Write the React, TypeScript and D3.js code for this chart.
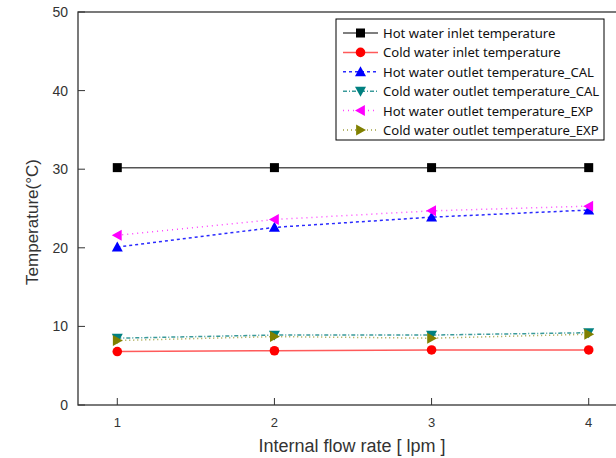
import React, { useEffect, useRef } from 'react';
import * as d3 from 'd3';

// flow rate [lpm]
const flowRates = [1, 2, 3, 4];
const yTicks = [0, 10, 20, 30, 40, 50];

const hotInlet = [30.2, 30.2, 30.2, 30.2];
const coldInlet = [6.8, 6.9, 7.0, 7.0];
const hotOutletCal = [20.1, 22.6, 23.9, 24.8];
const coldOutletCal = [8.5, 8.9, 8.9, 9.2];
const hotOutletExp = [21.6, 23.6, 24.7, 25.3];
const coldOutletExp = [8.2, 8.7, 8.5, 9.0];

const seriesNames = [
  'Hot water inlet temperature',
  'Cold water inlet temperature',
  'Hot water outlet temperature_CAL',
  'Cold water outlet temperature_CAL',
  'Hot water outlet temperature_EXP',
  'Cold water outlet temperature_EXP',
];

type Series = { name: string; values: number[]; color: string; lineColor: string; dash: string; marker: string };

const series: Series[] = [
  { name: seriesNames[0], values: hotInlet, color: '#000', lineColor: '#555', dash: '', marker: 'square' },
  { name: seriesNames[1], values: coldInlet, color: '#ff0000', lineColor: '#ff5a5a', dash: '', marker: 'circle' },
  { name: seriesNames[2], values: hotOutletCal, color: '#0000ff', lineColor: '#2a2aff', dash: '3,3', marker: 'up' },
  { name: seriesNames[3], values: coldOutletCal, color: '#008080', lineColor: '#3a9a9a', dash: '4,2,1,2', marker: 'down' },
  { name: seriesNames[4], values: hotOutletExp, color: '#ff00ff', lineColor: '#ff44ff', dash: '1,4', marker: 'left' },
  { name: seriesNames[5], values: coldOutletExp, color: '#808000', lineColor: '#a0a040', dash: '1,3', marker: 'right' },
];

function drawMarker(g: any, kind: string, x: number, y: number, color: string) {
  const s = 5.5;
  if (kind === 'square') {
    g.append('rect').attr('x', x - 4.5).attr('y', y - 4.5).attr('width', 9).attr('height', 9).attr('fill', color);
  } else if (kind === 'circle') {
    g.append('circle').attr('cx', x).attr('cy', y).attr('r', 4.8).attr('fill', color);
  } else {
    let pts: number[][] = [];
    if (kind === 'up') pts = [[x, y - s], [x + s, y + s * 0.8], [x - s, y + s * 0.8]];
    if (kind === 'down') pts = [[x, y + s], [x + s, y - s * 0.8], [x - s, y - s * 0.8]];
    if (kind === 'left') pts = [[x - s, y], [x + s * 0.8, y - s], [x + s * 0.8, y + s]];
    if (kind === 'right') pts = [[x + s, y], [x - s * 0.8, y - s], [x - s * 0.8, y + s]];
    g.append('polygon').attr('points', pts.map(p => p.join(',')).join(' ')).attr('fill', color);
  }
}

export default function App() {
  const ref = useRef<SVGSVGElement>(null);

  useEffect(() => {
    const svg = d3.select(ref.current);
    svg.selectAll('*').remove();

    const x = d3.scaleLinear().domain([0.75, 4.25]).range([78, 628]);
    const y = d3.scaleLinear().domain([0, 50]).range([405, 12]);
    const font = '"Liberation Sans", Arial, sans-serif';

    svg.append('rect').attr('width', 616).attr('height', 458).attr('fill', '#fff');

    // frame
    svg.append('rect')
      .attr('x', x(0.75)).attr('y', y(50))
      .attr('width', x(4.25) - x(0.75)).attr('height', y(0) - y(50))
      .attr('fill', 'none').attr('stroke', '#333').attr('stroke-width', 1.3);

    // y ticks
    const yAxis = svg.append('g');
    yTicks.forEach(t => {
      yAxis.append('line').attr('x1', x(0.75)).attr('x2', x(0.75) + 7)
        .attr('y1', y(t)).attr('y2', y(t)).attr('stroke', '#333');
      yAxis.append('text').attr('x', 68).attr('y', y(t) + 5)
        .attr('text-anchor', 'end').attr('font-family', font).attr('font-size', 14)
        .attr('fill', '#333').text(t);
    });

    // x ticks
    const xAxis = svg.append('g');
    flowRates.forEach(t => {
      xAxis.append('line').attr('x1', x(t)).attr('x2', x(t))
        .attr('y1', y(0)).attr('y2', y(0) - 7).attr('stroke', '#333');
      xAxis.append('text').attr('x', x(t)).attr('y', 427)
        .attr('text-anchor', 'middle').attr('font-family', font).attr('font-size', 13)
        .attr('fill', '#333').text(t);
    });

    // axis titles
    svg.append('text').attr('transform', 'translate(38,222) rotate(-90)')
      .attr('text-anchor', 'middle').attr('font-family', font).attr('font-size', 17)
      .attr('fill', '#333').text('Temperature(°C)');
    svg.append('text').attr('x', 352).attr('y', 452)
      .attr('text-anchor', 'middle').attr('font-family', font).attr('font-size', 18)
      .attr('fill', '#333').text('Internal flow rate [ lpm ]');

    // series
    const line = d3.line<number>().x((_, i) => x(flowRates[i])).y(d => y(d));
    series.forEach(s => {
      svg.append('path').attr('d', line(s.values)).attr('fill', 'none')
        .attr('stroke', s.lineColor).attr('stroke-width', 1.5)
        .attr('stroke-dasharray', s.dash || null);
    });
    series.forEach(s => {
      const g = svg.append('g');
      s.values.forEach((v, i) => drawMarker(g, s.marker, x(flowRates[i]), y(v), s.color));
    });

    // legend
    const lg = svg.append('g');
    lg.append('rect').attr('x', 336).attr('y', 19).attr('width', 268).attr('height', 121)
      .attr('fill', '#fff').attr('stroke', '#000').attr('stroke-width', 1);
    series.forEach((s, i) => {
      const ly = 33 + i * 19.4;
      lg.append('line').attr('x1', 343).attr('x2', 378).attr('y1', ly).attr('y2', ly)
        .attr('stroke', s.lineColor).attr('stroke-width', 1.5)
        .attr('stroke-dasharray', s.dash || null);
      drawMarker(lg, s.marker, 360.5, ly, s.color);
      lg.append('text').attr('x', 383).attr('y', ly + 5)
        .attr('font-family', '"Noto Sans", sans-serif').attr('font-size', 13.1)
        .attr('fill', '#111').text(s.name);
    });
  }, []);

  return (
    <svg ref={ref} width={616} height={458} style={{ position: 'absolute', left: 0, top: 0 }} />
  );
}
